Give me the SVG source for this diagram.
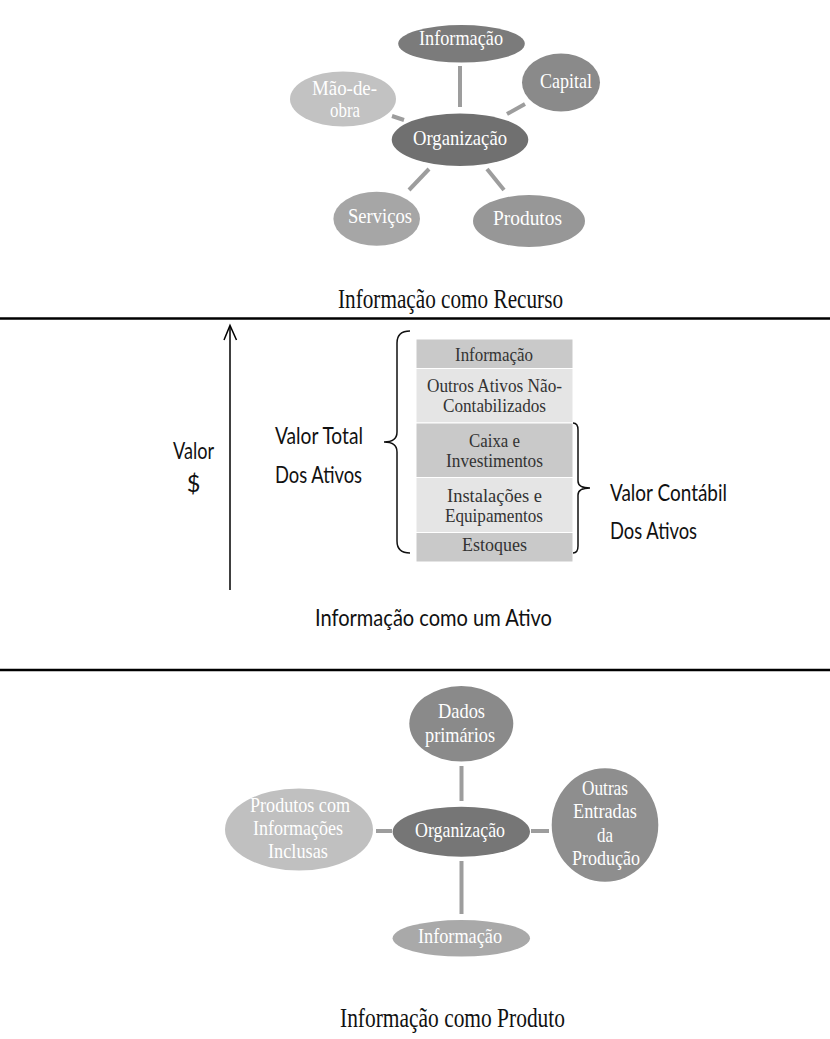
<svg xmlns="http://www.w3.org/2000/svg" width="830" height="1039" viewBox="0 0 830 1039">
<style>
.et{font-family:"Liberation Serif","Times New Roman",serif;font-size:21px;fill:#ffffff}
.tt{font-family:"Liberation Serif","Times New Roman",serif;font-size:19.5px;fill:#333333}
.title{font-family:"Liberation Serif","Times New Roman",serif;font-size:27px;fill:#111111}
.sans{font-family:Lato,"Open Sans",sans-serif;font-size:23.5px;fill:#111111}
.conn{stroke:#9d9d9d;stroke-width:4;fill:none}
.rule{stroke:#000000;stroke-width:2.5}
.brace{stroke:#111111;stroke-width:1.5;fill:none}
.dark{fill:#c9c9c9;stroke:#ffffff;stroke-width:1}
.light{fill:#e5e5e5;stroke:#ffffff;stroke-width:1}
</style>
<rect width="830" height="1039" fill="#ffffff"/>

<!-- Section 1: Informação como Recurso -->
<g id="connectors-recurso">
<line class="conn" x1="460" y1="66" x2="460" y2="107"/>
<line class="conn" x1="507" y1="114" x2="525" y2="104"/>
<line class="conn" x1="392" y1="116" x2="404" y2="120"/>
<line class="conn" x1="409" y1="190" x2="429" y2="169"/>
<line class="conn" x1="487" y1="169" x2="504" y2="190"/>
</g>
<g id="r-informacao">
<ellipse cx="461.5" cy="43.8" rx="63.3" ry="18.8" fill="#7b7b7b"/>
<text class="et" x="419" y="45" textLength="84" lengthAdjust="spacingAndGlyphs">Informação</text>
</g>
<g id="r-capital">
<ellipse cx="561" cy="82.5" rx="39" ry="29" fill="#8a8a8a"/>
<text class="et" x="540" y="88" textLength="52" lengthAdjust="spacingAndGlyphs">Capital</text>
</g>
<g id="r-maodeobra">
<ellipse cx="343" cy="99" rx="53" ry="27.5" fill="#c2c2c2"/>
<text class="et" x="312" y="95" textLength="65" lengthAdjust="spacingAndGlyphs">Mão-de-</text>
<text class="et" x="330" y="117" textLength="30" lengthAdjust="spacingAndGlyphs">obra</text>
</g>
<g id="r-organizacao">
<ellipse cx="460" cy="139.7" rx="68.3" ry="26.3" fill="#707070"/>
<text class="et" x="413" y="145" textLength="94" lengthAdjust="spacingAndGlyphs">Organização</text>
</g>
<g id="r-servicos">
<ellipse cx="376.7" cy="218.8" rx="43.3" ry="27" fill="#a6a6a6"/>
<text class="et" x="348" y="223" textLength="64" lengthAdjust="spacingAndGlyphs">Serviços</text>
</g>
<g id="r-produtos">
<ellipse cx="529" cy="221" rx="56" ry="26" fill="#979797"/>
<text class="et" x="493" y="225" textLength="69" lengthAdjust="spacingAndGlyphs">Produtos</text>
</g>
<text class="title" x="338" y="308" textLength="225" lengthAdjust="spacingAndGlyphs">Informação como Recurso</text>
<line class="rule" x1="0" y1="318.5" x2="830" y2="318.5"/>

<!-- Section 2: Informação como um Ativo -->
<g id="axis">
<line x1="230" y1="326" x2="230" y2="590" stroke="#000" stroke-width="1.5"/>
<polyline points="224,340 230,325.5 236.5,340" fill="none" stroke="#000" stroke-width="1.5"/>
<text class="sans" x="173" y="459" textLength="41" lengthAdjust="spacingAndGlyphs">Valor</text>
<text class="sans" x="193.5" y="492" text-anchor="middle">$</text>
</g>
<g id="valor-total">
<text class="sans" x="275" y="444" textLength="88" lengthAdjust="spacingAndGlyphs">Valor Total</text>
<text class="sans" x="275" y="483" textLength="87" lengthAdjust="spacingAndGlyphs">Dos Ativos</text>
<path class="brace" d="M410,331 Q397,331 397,343 L397,432 Q397,442 384,442 Q397,442 397,452 L397,541 Q397,553 410,553"/>
</g>
<g id="tabela">
<rect class="dark" x="416" y="339" width="157" height="29.5"/>
<rect class="light" x="416" y="368.5" width="157" height="54.5"/>
<rect class="dark" x="416" y="423" width="157" height="54.5"/>
<rect class="light" x="416" y="477.5" width="157" height="55"/>
<rect class="dark" x="416" y="532.5" width="157" height="29.5"/>
<text class="tt" x="455" y="361" textLength="78" lengthAdjust="spacingAndGlyphs">Informação</text>
<text class="tt" x="427" y="392" textLength="135" lengthAdjust="spacingAndGlyphs">Outros Ativos Não-</text>
<text class="tt" x="443" y="412" textLength="103" lengthAdjust="spacingAndGlyphs">Contabilizados</text>
<text class="tt" x="469" y="447" textLength="51" lengthAdjust="spacingAndGlyphs">Caixa e</text>
<text class="tt" x="446" y="467" textLength="97" lengthAdjust="spacingAndGlyphs">Investimentos</text>
<text class="tt" x="447" y="502" textLength="95" lengthAdjust="spacingAndGlyphs">Instalações e</text>
<text class="tt" x="445" y="522" textLength="98" lengthAdjust="spacingAndGlyphs">Equipamentos</text>
<text class="tt" x="462" y="551" textLength="65" lengthAdjust="spacingAndGlyphs">Estoques</text>
</g>
<g id="valor-contabil">
<path class="brace" d="M573,423 Q578,423 578,430 L578,481 Q578,488 590,488 Q578,488 578,495 L578,546 Q578,553 573,553"/>
<text class="sans" x="610" y="501" textLength="117" lengthAdjust="spacingAndGlyphs">Valor Contábil</text>
<text class="sans" x="610" y="539" textLength="87" lengthAdjust="spacingAndGlyphs">Dos Ativos</text>
</g>
<text class="sans" x="315" y="626" textLength="237" lengthAdjust="spacingAndGlyphs">Informação como um Ativo</text>
<line class="rule" x1="0" y1="670" x2="830" y2="670"/>

<!-- Section 3: Informação como Produto -->
<g id="connectors-produto">
<line class="conn" x1="461.5" y1="766" x2="461.5" y2="801"/>
<line class="conn" x1="461.5" y1="861" x2="461.5" y2="914"/>
<line class="conn" x1="376" y1="831" x2="392" y2="831"/>
<line class="conn" x1="531" y1="831" x2="549" y2="831"/>
</g>
<g id="p-dados">
<ellipse cx="461.3" cy="723.8" rx="52" ry="37.8" fill="#8a8a8a"/>
<text class="et" x="438" y="718" textLength="47" lengthAdjust="spacingAndGlyphs">Dados</text>
<text class="et" x="425" y="742" textLength="70" lengthAdjust="spacingAndGlyphs">primários</text>
</g>
<g id="p-outras">
<ellipse cx="605" cy="825" rx="53.3" ry="56.7" fill="#8e8e8e"/>
<text class="et" x="582" y="795" textLength="46" lengthAdjust="spacingAndGlyphs">Outras</text>
<text class="et" x="573" y="818" textLength="64" lengthAdjust="spacingAndGlyphs">Entradas</text>
<text class="et" x="597" y="842" textLength="16" lengthAdjust="spacingAndGlyphs">da</text>
<text class="et" x="572" y="865" textLength="68" lengthAdjust="spacingAndGlyphs">Produção</text>
</g>
<g id="p-produtos">
<ellipse cx="299" cy="829.5" rx="74" ry="41" fill="#c0c0c0"/>
<text class="et" x="250" y="812" textLength="100" lengthAdjust="spacingAndGlyphs">Produtos com</text>
<text class="et" x="253" y="835" textLength="90" lengthAdjust="spacingAndGlyphs">Informações</text>
<text class="et" x="268" y="858" textLength="60" lengthAdjust="spacingAndGlyphs">Inclusas</text>
</g>
<g id="p-organizacao">
<ellipse cx="461.3" cy="831.7" rx="68.7" ry="25" fill="#767676"/>
<text class="et" x="415" y="837" textLength="90" lengthAdjust="spacingAndGlyphs">Organização</text>
</g>
<g id="p-informacao">
<ellipse cx="461.3" cy="938.3" rx="68.7" ry="18.3" fill="#a9a9a9"/>
<text class="et" x="418" y="943" textLength="84" lengthAdjust="spacingAndGlyphs">Informação</text>
</g>
<text class="title" x="340" y="1027" textLength="225" lengthAdjust="spacingAndGlyphs">Informação como Produto</text>
</svg>
